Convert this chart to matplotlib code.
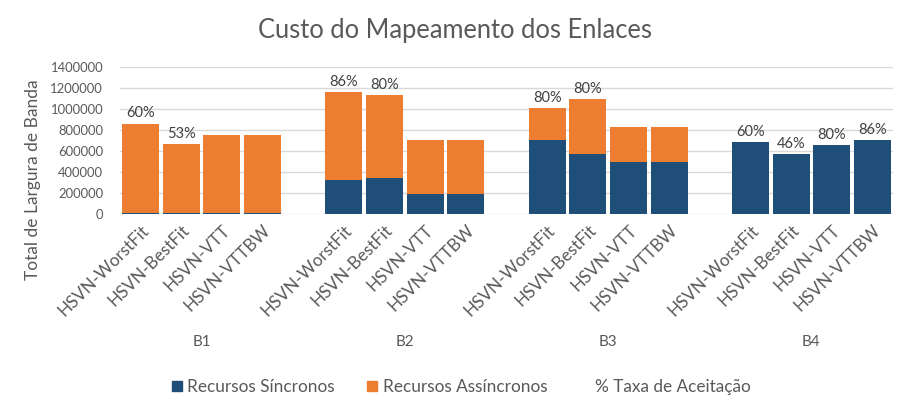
import matplotlib.pyplot as plt
from matplotlib.patches import Patch
import numpy as np

plt.rcParams['font.family'] = ['Lato', 'DejaVu Sans']

groups = ['B1', 'B2', 'B3', 'B4']
algos = ['HSVN-WorstFit', 'HSVN-BestFit', 'HSVN-VTT', 'HSVN-VTTBW']

# valores por grupo (B1..B4), cada um com 4 algoritmos
sincronos = [
    [8000, 5000, 8000, 8000],
    [320000, 338000, 191000, 191000],
    [701000, 568000, 491000, 491000],
    [682000, 568000, 654000, 701000],
]
assincronos = [
    [852000, 658000, 742000, 742000],
    [841000, 794000, 510000, 510000],
    [307000, 526000, 335000, 335000],
    [0, 0, 0, 0],
]
taxa = [
    ['60%', '53%', None, None],
    ['86%', '80%', None, None],
    ['80%', '80%', None, None],
    ['60%', '46%', '80%', '86%'],
]

c_sync = '#1F4E79'
c_async = '#ED7D31'
txt = '#595959'

fig = plt.figure(figsize=(9.1, 4.17), dpi=100)
ax = fig.add_axes([0.132, 0.488, 0.849, 0.351])

xs, labels = [], []
for g in range(len(groups)):
    for i in range(len(algos)):
        x = g * 5 + i
        s = sincronos[g][i]
        a = assincronos[g][i]
        ax.bar(x, s, width=0.91, color=c_sync, zorder=3)
        ax.bar(x, a, width=0.91, bottom=s, color=c_async, zorder=3)
        if taxa[g][i]:
            ax.text(x, s + a + 30000, taxa[g][i], ha='center', va='bottom',
                    fontsize=10.5, color='#404040')
        xs.append(x)
        labels.append(algos[i])

ax.set_xlim(-0.5, 18.5)
ax.set_ylim(0, 1400000)
ax.set_yticks(np.arange(0, 1400001, 200000))
ax.set_yticklabels([str(v) for v in range(0, 1400001, 200000)], fontsize=9.4, color=txt)
ax.set_xticks(xs)
ax.set_xticklabels(labels, rotation=45, ha='right', rotation_mode='anchor',
                   fontsize=12.3, color=txt)
ax.tick_params(length=0)
ax.tick_params(axis='y', pad=12.2)
ax.tick_params(axis='x', pad=6)
ax.yaxis.grid(True, color='#D9D9D9', linewidth=1, zorder=0)
for sp in ax.spines.values():
    sp.set_visible(False)

for g, name in enumerate(groups):
    ax.text(g * 5 + 1.5, -0.88, name, transform=ax.get_xaxis_transform(),
            ha='center', va='center', fontsize=11, color=txt)

fig.text(0.5, 0.928, 'Custo do Mapeamento dos Enlaces', ha='center', va='center',
         fontsize=18.4, color=txt)
fig.text(0.036, 0.568, 'Total de Largura de Banda', rotation=90, ha='center',
         va='center', fontsize=12.5, color=txt)

handles = [Patch(color=c_sync), Patch(color=c_async), Patch(color='none')]
fig.legend(handles, ['Recursos Síncronos', 'Recursos Assíncronos', '% Taxa de Aceitação'],
           loc='center', bbox_to_anchor=(0.507, 0.072), ncol=3, frameon=False,
           fontsize=12.4, labelcolor=txt, handlelength=0.58, handleheight=0.58,
           handletextpad=0.3, columnspacing=1.9)

fig.savefig('out.png', dpi=100, facecolor='white')
